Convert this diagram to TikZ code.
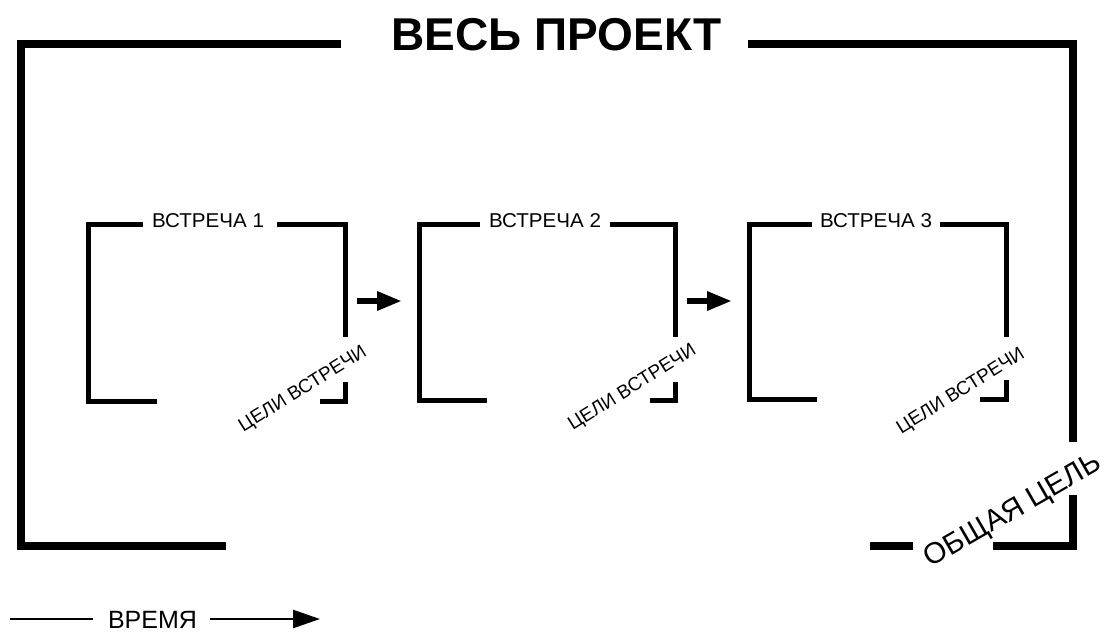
\documentclass[tikz,border=0pt]{standalone}
\usepackage{fontspec}
\setmainfont{Liberation Sans}
\usetikzlibrary{arrows.meta}
\tikzset{
  outerline/.style={line width=8.5pt, line join=miter},
  boxline/.style={line width=5pt, line join=miter},
  title/.style={font=\fontsize{46}{46}\selectfont\bfseries, inner sep=0pt, anchor=base},
  meetlabel/.style={font=\fontsize{20}{20}\selectfont, inner sep=0pt, anchor=base, xscale=1.03},
  goallabel/.style={font=\fontsize{19}{19}\selectfont, inner sep=0pt, anchor=base, rotate=32},
  biggoal/.style={font=\fontsize{29.5}{29.5}\selectfont, inner sep=0pt, anchor=base, rotate=30},
  steparrow/.style={line width=6pt, -{Triangle[length=25pt,width=18pt]}},
  timeline/.style={line width=2.5pt},
  timearrow/.style={line width=2.5pt, -{Triangle[length=27pt,width=18pt]}},
  timelabel/.style={font=\fontsize{25}{25}\selectfont, inner sep=0pt, anchor=base}
}
\begin{document}
\begin{tikzpicture}[x=1pt,y=-1pt]
\useasboundingbox (0,0) rectangle (1109,632);
% outer frame
\draw[outerline] (341,44) -- (21,44) -- (21,546) -- (226,546);
\draw[outerline] (748,44) -- (1073,44) -- (1073,442);
\draw[outerline] (1073,495) -- (1073,546) -- (993,546);
\draw[outerline] (870,546) -- (913,546);
\node[title] (proj) at (556.5,50) {ВЕСЬ ПРОЕКТ};
\node[biggoal] (goal) at (1017,518) {ОБЩАЯ ЦЕЛЬ};
% box 1
\draw[boxline] (143,224.5) -- (88,224.5) -- (88,401) -- (157,401);
\draw[boxline] (277,224.5) -- (345,224.5) -- (345,337);
\draw[boxline] (345,382) -- (345,401) -- (320,401);
\node[meetlabel] (m1) at (208,227) {ВСТРЕЧА 1};
\node[goallabel] (g1) at (305.5,393.6) {ЦЕЛИ ВСТРЕЧИ};
% box 2
\draw[boxline] (480,224.5) -- (419,224.5) -- (419,400) -- (487,400);
\draw[boxline] (610,224.5) -- (675,224.5) -- (675,337);
\draw[boxline] (675,382) -- (675,400) -- (650,400);
\node[meetlabel] (m2) at (545,227) {ВСТРЕЧА 2};
\node[goallabel] (g2) at (635,392) {ЦЕЛИ ВСТРЕЧИ};
% box 3
\draw[boxline] (812,224) -- (749,224) -- (749,399) -- (817,399);
\draw[boxline] (940,224) -- (1006,224) -- (1006,337);
\draw[boxline] (1006,380) -- (1006,399) -- (980,399);
\node[meetlabel] (m3) at (876,227) {ВСТРЕЧА 3};
\node[goallabel] (g3) at (963.5,395.6) {ЦЕЛИ ВСТРЕЧИ};
% arrows between meetings
\coordinate (a1s) at (357,301);
\coordinate (a1e) at (402,301);
\coordinate (a2s) at (687,301);
\coordinate (a2e) at (732,301);
\draw[steparrow] (a1s) -- (a1e);
\draw[steparrow] (a2s) -- (a2e);
% time axis
\node[timelabel] (time) at (152.5,628) {ВРЕМЯ};
\coordinate (t0) at (10,619);
\coordinate (t1) at (93,619);
\coordinate (t2) at (210,619);
\coordinate (t3) at (320,619);
\draw[timeline] (t0) -- (t1);
\draw[timearrow] (t2) -- (t3);
\end{tikzpicture}
\end{document}
